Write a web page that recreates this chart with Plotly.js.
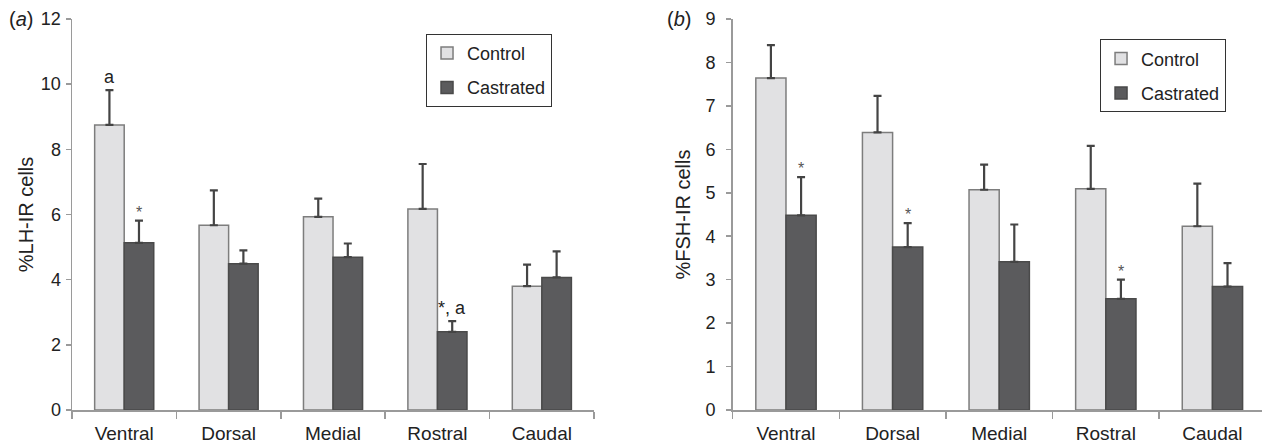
<!DOCTYPE html>
<html>
<head>
<meta charset="utf-8">
<script src="https://cdn.plot.ly/plotly-3.0.1.min.js"></script>
<style>html,body{margin:0;padding:0;background:#fff;}#chart{width:1262px;height:445px;}</style>
</head>
<body>
<div id="chart"></div>
<script>
const categories = ['Ventral', 'Dorsal', 'Medial', 'Rostral', 'Caudal'];
const seriesNames = ['Control', 'Castrated'];
const lhControl = [8.75, 5.67, 5.93, 6.17, 3.80];
const lhControlErr = [1.07, 1.07, 0.56, 1.38, 0.66];
const lhCastrated = [5.13, 4.49, 4.69, 2.40, 4.07];
const lhCastratedErr = [0.68, 0.41, 0.42, 0.33, 0.80];
const fshControl = [7.64, 6.39, 5.07, 5.09, 4.23];
const fshControlErr = [0.76, 0.84, 0.58, 0.99, 0.98];
const fshCastrated = [4.48, 3.75, 3.41, 2.56, 2.84];
const fshCastratedErr = [0.88, 0.55, 0.86, 0.44, 0.54];
const lhTicks = [0, 2, 4, 6, 8, 10, 12];
const fshTicks = [0, 1, 2, 3, 4, 5, 6, 7, 8, 9];
// significance marks: panel, category, series index, text
const marks = [
  ['a', 'Ventral', 0, 'a'],
  ['a', 'Ventral', 1, '*'],
  ['a', 'Rostral', 1, '*, a'],
  ['b', 'Ventral', 1, '*'],
  ['b', 'Dorsal', 1, '*'],
  ['b', 'Rostral', 1, '*']
];

const FONT = 'Liberation Sans, Arial, Helvetica, sans-serif';
const TXT = '#222';
const fills = ['#e1e1e3', '#5b5b5d'];
const borders = ['#7d7d7d', '#4a4a4a'];

function bar(name, vals, errs, idx, xa, ya, legend) {
  return {
    type: 'bar', name: name, x: categories, y: vals,
    xaxis: xa, yaxis: ya, legend: legend, showlegend: true, legendgroup: legend + name,
    marker: {color: fills[idx], line: {color: borders[idx], width: 1.5}},
    error_y: {type: 'data', array: errs, arrayminus: errs.map(() => 0), symmetric: false,
              color: '#444', thickness: 2.2, width: 4}
  };
}

const data = [
  bar(seriesNames[0], lhControl, lhControlErr, 0, 'x', 'y', 'legend'),
  bar(seriesNames[1], lhCastrated, lhCastratedErr, 1, 'x', 'y', 'legend'),
  bar(seriesNames[0], fshControl, fshControlErr, 0, 'x2', 'y2', 'legend2'),
  bar(seriesNames[1], fshCastrated, fshCastratedErr, 1, 'x2', 'y2', 'legend2')
];

const vals = {a: [[lhControl, lhControlErr], [lhCastrated, lhCastratedErr]],
              b: [[fshControl, fshControlErr], [fshCastrated, fshCastratedErr]]};

const annotations = marks.map(m => {
  const [panel, cat, s, text] = m;
  const i = categories.indexOf(cat);
  const top = vals[panel][s][0][i] + vals[panel][s][1][i];
  const star = text.indexOf('*') === 0 && text.length === 1;
  return {
    xref: panel === 'a' ? 'x' : 'x2', yref: panel === 'a' ? 'y' : 'y2',
    x: cat, y: top, text: text, showarrow: false,
    xshift: s === 0 ? -15 : 15, yanchor: 'bottom', yshift: star ? -2 : 1,
    font: {family: FONT, size: star ? 16 : 18, color: star ? '#555' : TXT}
  };
});

annotations.push({xref: 'paper', yref: 'paper', x: -0.055, y: 1, xanchor: 'left', yanchor: 'middle',
  text: '(<i>a</i>)', showarrow: false, font: {family: FONT, size: 20, color: TXT}});
annotations.push({xref: 'paper', yref: 'paper', x: 0.4985, y: 1, xanchor: 'left', yanchor: 'middle',
  text: '(<i>b</i>)', showarrow: false, font: {family: FONT, size: 20, color: TXT}});

function xaxis(domain, range, anchor) {
  return {domain: domain, range: range, anchor: anchor, type: 'category',
    showline: true, linecolor: '#9a9a9a', linewidth: 1.5, ticks: 'outside', tickson: 'boundaries',
    ticklen: 7, tickcolor: '#9a9a9a', tickwidth: 1.5, showgrid: false, zeroline: false,
    ticklabelstandoff: 6, tickfont: {family: FONT, size: 19, color: TXT}, fixedrange: true};
}
function yaxis(range, ticks, title, anchor, labelGap, standoff) {
  return {range: range, anchor: anchor, tickvals: ticks, ticktext: ticks.map(String),
    showline: true, linecolor: '#9a9a9a', linewidth: 1.5, ticks: 'outside', ticklen: 5,
    tickcolor: '#9a9a9a', tickwidth: 1.5, showgrid: false, zeroline: false,
    ticklabelstandoff: labelGap, tickfont: {family: FONT, size: 18, color: TXT},
    title: {text: title, font: {family: FONT, size: 20, color: TXT}, standoff: standoff}};
}

const legendBase = {xanchor: 'left', yanchor: 'top', bordercolor: '#333', borderwidth: 1,
  bgcolor: '#fff', font: {family: FONT, size: 18, color: TXT}, traceorder: 'grouped',
  tracegroupgap: 8};

const layout = {
  width: 1262, height: 445,
  margin: {l: 72, r: 0, t: 19, b: 35},
  paper_bgcolor: '#fff', plot_bgcolor: '#fff',
  barmode: 'group', bargap: 0.434, bargroupgap: 0,
  xaxis: xaxis([0, 0.4387], [-0.5, 4.5], 'y'),
  yaxis: yaxis([0, 12], lhTicks, '%LH-IR cells', 'x', 1, 2),
  xaxis2: xaxis([0.5552, 1], [-0.5, 4.465], 'y2'),
  yaxis2: yaxis([0, 9], fshTicks, '%FSH-IR cells', 'x2', 7, 9),
  legend: Object.assign({x: 0.2975, y: 0.962}, legendBase),
  legend2: Object.assign({x: 0.8639, y: 0.948}, legendBase),
  annotations: annotations,
  showlegend: true
};

Plotly.newPlot('chart', data, layout, {displayModeBar: false, staticPlot: true});
</script>
</body>
</html>
